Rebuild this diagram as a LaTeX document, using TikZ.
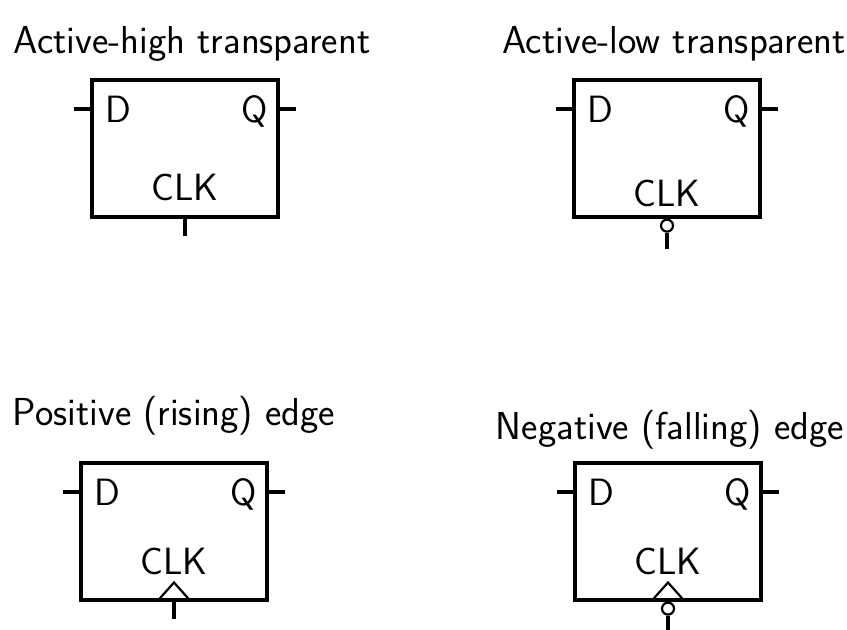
\documentclass[tikz,border=0pt]{standalone}
\usepackage{fontspec}
\usetikzlibrary{positioning}

\begin{document}
\begin{tikzpicture}[x=0.5pt, y=-0.5pt,
    ffbox/.style={draw, line width=2pt, minimum width=93pt, minimum height=68.5pt, inner sep=0pt},
    pinlab/.style={inner sep=2pt, font=\sffamily\fontsize{19}{22}\selectfont},
    ftitle/.style={anchor=base, inner sep=0pt, font=\sffamily\fontsize{19.5}{23}\selectfont},
    pin/.style={line width=1.6pt},
    edgetri/.style={line width=1.1pt},
    bubble/.style={circle, draw, line width=1.1pt, minimum size=6pt, inner sep=0pt}]
    \useasboundingbox (0,0) rectangle (847,629);
    \node[ffbox] (ah) at (185,148) {};
    \node[ffbox] (al) at (667,148) {};
    \node[ffbox] (pe) at (174,531) {};
    \node[ffbox] (ne) at (668,531) {};
    \node[ftitle] (ahT) at (192,53) {Active-high transparent};
    \node[ftitle] (alT) at (674,53) {Active-low transparent};
    \node[ftitle] (peT) at (174,425) {Positive (rising) edge};
    \node[ftitle] (neT) at (670,439) {Negative (falling) edge};
    \foreach \f/\c in {ah/6.5pt, al/3.5pt, pe/11pt, ne/11pt} {
        \node[pinlab, below right=7pt and 5.5pt of \f.north west] (\f D) {D};
        \node[pinlab, below left=7pt and 4pt of \f.north east] (\f Q) {Q};
        \node[pinlab, above=\c of \f.south] (\f C) {CLK};
        \coordinate (\f d) at ([xshift=-8pt]\f.west |- \f D);
        \coordinate (\f q) at ([xshift=8pt]\f.east |- \f D);
        \draw[pin] (\f.west |- \f D) -- (\f d);
        \draw[pin] (\f.east |- \f D) -- (\f q);
    }
    % clock inputs
    \coordinate[below=8.5pt of ah.south] (ahc);
    \draw[pin] (ah.south) -- (ahc);
    \node[bubble, below=0pt of al.south] (alb) {};
    \coordinate[below=8pt of alb.south] (alc);
    \draw[pin] (alb.south) -- (alc);
    \draw[edgetri] ([xshift=-8.5pt]pe.south) -- ([yshift=9.5pt]pe.south) -- ([xshift=8.5pt]pe.south);
    \coordinate[below=8.5pt of pe.south] (pec);
    \draw[pin] (pe.south) -- (pec);
    \draw[edgetri] ([xshift=-8.5pt]ne.south) -- ([yshift=9.5pt]ne.south) -- ([xshift=8.5pt]ne.south);
    \node[bubble, below=0pt of ne.south] (neb) {};
    \coordinate[below=8pt of neb.south] (nec);
    \draw[pin] (neb.south) -- (nec);
\end{tikzpicture}
\end{document}
